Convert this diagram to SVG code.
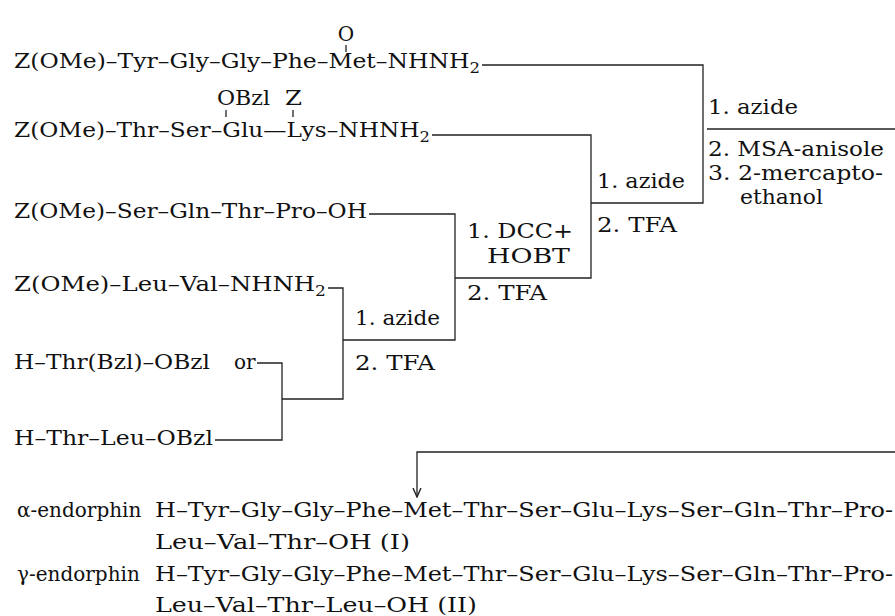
<svg xmlns="http://www.w3.org/2000/svg" width="895" height="616" viewBox="0 0 895 616">
<defs>
<style>
text{font-family:"DejaVu Serif","Liberation Serif",serif;font-size:20px;fill:#111}
.ln{stroke:#222;stroke-width:1.3;fill:none}
.sub{font-size:14px}
</style>
<marker id="ah" viewBox="0 0 10 10" refX="9" refY="5" markerWidth="10" markerHeight="10" markerUnits="userSpaceOnUse" orient="auto"><path d="M0,1 L9,5 L0,9" fill="none" stroke="#222" stroke-width="1.4"/></marker>
</defs>
<rect width="895" height="616" fill="#fff"/>
<g id="r1">
<text x="346" y="41" text-anchor="middle">O</text>
<line class="ln" x1="346" y1="45" x2="346" y2="52"/>
<text x="14" y="68" textLength="466" lengthAdjust="spacingAndGlyphs">Z(OMe)–Tyr–Gly–Gly–Phe–Met–NHNH<tspan class="sub" dy="5">2</tspan></text>
</g>
<g id="r2">
<text x="217" y="105" textLength="53" lengthAdjust="spacingAndGlyphs">OBzl</text>
<text x="285" y="105" textLength="17" lengthAdjust="spacingAndGlyphs">Z</text>
<line class="ln" x1="226" y1="110" x2="226" y2="117"/>
<line class="ln" x1="293" y1="110" x2="293" y2="117"/>
<text x="14" y="137" textLength="416" lengthAdjust="spacingAndGlyphs">Z(OMe)–Thr–Ser–Glu—Lys–NHNH<tspan class="sub" dy="5">2</tspan></text>
</g>
<g id="r3"><text x="14" y="218" textLength="353" lengthAdjust="spacingAndGlyphs">Z(OMe)–Ser–Gln–Thr–Pro–OH</text></g>
<g id="r4"><text x="14" y="291" textLength="312" lengthAdjust="spacingAndGlyphs">Z(OMe)–Leu–Val–NHNH<tspan class="sub" dy="5">2</tspan></text></g>
<g id="r5"><text x="14" y="369"><tspan textLength="196" lengthAdjust="spacingAndGlyphs">H–Thr(Bzl)–OBzl</tspan><tspan x="234">or</tspan></text></g>
<g id="r6"><text x="14" y="445" textLength="199" lengthAdjust="spacingAndGlyphs">H–Thr–Leu–OBzl</text></g>
<g id="step1">
<text x="355" y="325" textLength="85" lengthAdjust="spacingAndGlyphs">1. azide</text>
<text x="355" y="370" textLength="80" lengthAdjust="spacingAndGlyphs">2. TFA</text>
</g>
<g id="step2">
<text x="467" y="238" textLength="106" lengthAdjust="spacingAndGlyphs">1. DCC+</text>
<text x="487" y="263" textLength="83" lengthAdjust="spacingAndGlyphs">HOBT</text>
<text x="467" y="300" textLength="80" lengthAdjust="spacingAndGlyphs">2. TFA</text>
</g>
<g id="step3">
<text x="597" y="188" textLength="88" lengthAdjust="spacingAndGlyphs">1. azide</text>
<text x="597" y="232" textLength="80" lengthAdjust="spacingAndGlyphs">2. TFA</text>
</g>
<g id="step4">
<text x="708" y="114" textLength="90" lengthAdjust="spacingAndGlyphs">1. azide</text>
<text x="708" y="156" textLength="176" lengthAdjust="spacingAndGlyphs">2. MSA-anisole</text>
<text x="708" y="180" textLength="175" lengthAdjust="spacingAndGlyphs">3. 2-mercapto-</text>
<text x="740" y="204" textLength="83" lengthAdjust="spacingAndGlyphs">ethanol</text>
</g>
<g id="products">
<text x="17" y="517">α-endorphin</text>
<text x="155" y="517" textLength="738" lengthAdjust="spacingAndGlyphs">H–Tyr–Gly–Gly–Phe–Met–Thr–Ser–Glu–Lys–Ser–Gln–Thr–Pro-</text>
<text x="155" y="549" textLength="255" lengthAdjust="spacingAndGlyphs">Leu–Val–Thr–OH (I)</text>
<text x="17" y="581">γ-endorphin</text>
<text x="155" y="581" textLength="738" lengthAdjust="spacingAndGlyphs">H–Tyr–Gly–Gly–Phe–Met–Thr–Ser–Glu–Lys–Ser–Gln–Thr–Pro-</text>
<text x="155" y="612" textLength="322" lengthAdjust="spacingAndGlyphs">Leu–Val–Thr–Leu–OH (II)</text>
</g>
<g id="connectors">
<polyline class="ln" points="482,65 703,65 703,203 591,203"/>
<line class="ln" x1="707" y1="129" x2="895" y2="129"/>
<polyline class="ln" points="432,135 591,135 591,278 455,278"/>
<polyline class="ln" points="369,214 455,214 455,340 343,340"/>
<polyline class="ln" points="328,288 343,288 343,399 282,399"/>
<polyline class="ln" points="257,363 282,363 282,440 215,440"/>
<polyline class="ln" points="895,452 417,452 417,497" marker-end="url(#ah)"/>
</g>
</svg>
